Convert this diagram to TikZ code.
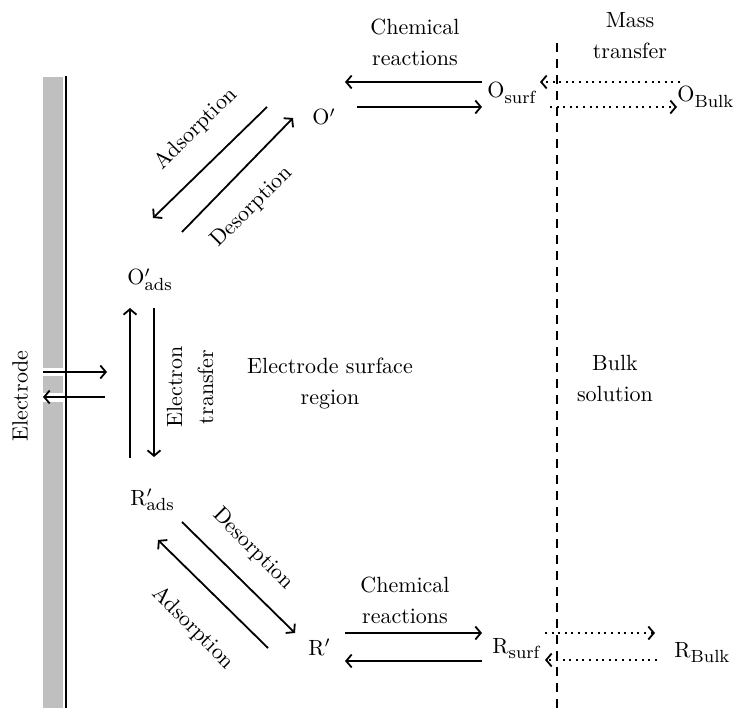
\documentclass[tikz,border=0pt]{standalone}
\usetikzlibrary{arrows.meta}
\newcommand{\sbs}[1]{\raisebox{-2.3pt}{\fontsize{8}{9}\selectfont #1}}
\begin{document}
\begin{tikzpicture}[x=1pt,y=-1pt,
  every node/.style={inner sep=0pt, scale=2.2, font=\fontsize{10}{14.1}\selectfont},
  lbl/.style={align=center},
  spc/.style={anchor=base west},
  arr/.style={line width=1.8pt, -{Straight Barb[length=5.5pt,width=13pt]}},
  darr/.style={arr, dash pattern=on 2pt off 4.6pt},
  bound/.style={line width=2.2pt, dash pattern=on 9pt off 7pt}]
\useasboundingbox (0,0) rectangle (736,708);
% electrode
\fill[gray!50] (43,77) rectangle (63,708);
\draw[line width=2pt] (66,76) -- (66,708);
\node[rotate=90] (el) at (20,396) {Electrode};
\draw[white, line width=8pt] (43,372) -- (63,372);
\draw[white, line width=9pt] (43,397) -- (63,397);
\coordinate (e1) at (43,372); \coordinate (e2) at (107,372);
\coordinate (e3) at (105,397); \coordinate (e4) at (43,397);
\draw[arr] (e1) -- (e2);
\draw[arr] (e3) -- (e4);
% species
\node[spc] (oads) at (127,285) {O\rlap{$'$}\sbs{ads}};
\node[spc] (rads) at (130,505) {R\rlap{$'$}\sbs{ads}};
\node[spc] (op) at (312,125) {O$'$};
\node[spc] (rp) at (308,655) {R$'$};
\node[spc] (osurf) at (487,98) {O\sbs{surf}};
\node[spc] (obulk) at (677,102) {O\sbs{Bulk}};
\node[spc] (rsurf) at (492,653) {R\sbs{surf}};
\node[spc] (rbulk) at (674,657) {R\sbs{Bulk}};
% labels
\node[lbl] (chem1) at (415,42) {Chemical\\reactions};
\node[lbl] (mass) at (630,36) {Mass\\transfer};
\node[lbl] (chem2) at (405,600) {Chemical\\reactions};
\node[lbl] (esr) at (330,384) {Electrode surface\\region};
\node[lbl] (bulk) at (615,378) {Bulk\\solution};
\node[lbl, rotate=90] (et) at (190,387) {Electron\\transfer};
\node[rotate=45] (ads1) at (196,129) {Adsorption};
\node[rotate=45] (des1) at (252,207) {Desorption};
\node[rotate=-45] (des2) at (253,549) {Desorption};
\node[rotate=-45] (ads2) at (193,628) {Adsorption};
% boundary
\coordinate (b1) at (557,43); \coordinate (b2) at (557,708);
\draw[bound] (b1) -- (b2);
% electron transfer
\coordinate (t1) at (130,458); \coordinate (t2) at (130,308);
\coordinate (t3) at (154,308); \coordinate (t4) at (154,457);
\draw[arr] (t1) -- (t2);
\draw[arr] (t3) -- (t4);
% upper adsorption/desorption
\coordinate (u1) at (267,107); \coordinate (u2) at (153,218);
\coordinate (u3) at (182,232); \coordinate (u4) at (293,118);
\draw[arr] (u1) -- (u2);
\draw[arr] (u3) -- (u4);
% lower adsorption/desorption
\coordinate (l1) at (182,522); \coordinate (l2) at (295,633);
\coordinate (l3) at (268,648); \coordinate (l4) at (158,540);
\draw[arr] (l1) -- (l2);
\draw[arr] (l3) -- (l4);
% chemical reactions
\coordinate (c1) at (482,82); \coordinate (c2) at (345,82);
\coordinate (c3) at (357,107); \coordinate (c4) at (482,107);
\draw[arr] (c1) -- (c2);
\draw[arr] (c3) -- (c4);
\coordinate (c5) at (345,633); \coordinate (c6) at (482,633);
\coordinate (c7) at (482,661); \coordinate (c8) at (345,661);
\draw[arr] (c5) -- (c6);
\draw[arr] (c7) -- (c8);
% mass transfer
\coordinate (m1) at (680,82); \coordinate (m2) at (540,82);
\coordinate (m3) at (550,107); \coordinate (m4) at (677,107);
\draw[darr] (m1) -- (m2);
\draw[darr] (m3) -- (m4);
\coordinate (m5) at (545,633); \coordinate (m6) at (655,633);
\coordinate (m7) at (657,660); \coordinate (m8) at (545,660);
\draw[darr] (m5) -- (m6);
\draw[darr] (m7) -- (m8);
\end{tikzpicture}
\end{document}
